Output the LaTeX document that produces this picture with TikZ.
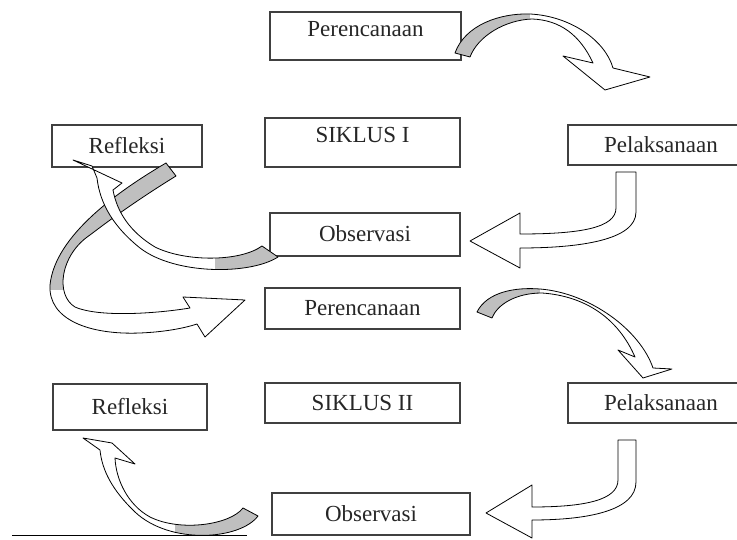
\documentclass[tikz,border=0pt]{standalone}
\usepackage{fontspec}
\setmainfont{Liberation Serif}
\usepackage{tikz}

\newcommand{\twistarrow}[2]{%
\fill[white] #1;
\begin{scope}
\clip #1;
\fill[gray!50] #2;
\end{scope}
\draw[ribbon] #1;}

\begin{document}
\begin{tikzpicture}[x = 1pt, y = -1pt,
box/.style = {draw = black!75, line width = 1.2pt, shape = rectangle, inner sep = 0pt, text height = 15pt, text depth = 0pt, font = \fontsize{23}{27}\selectfont, text = black!85},
ribbon/.style = {draw = black, line width = 0.8pt, line join = round}]
\useasboundingbox (0,0) rectangle (737,540);

% siklus I
\node[box, minimum width = 191pt, minimum height = 48pt, text depth = 13pt] (per1) at (365.5,36) {Perencanaan};
\node[box, minimum width = 195pt, minimum height = 49pt, text depth = 14pt] (sik1) at (362.5,142.5) {SIKLUS I};
\node[box, minimum width = 150pt, minimum height = 42pt] (ref1) at (127,146) {Refleksi};
\node[box, minimum width = 186pt, minimum height = 40pt] (pel1) at (661,145) {Pelaksanaan};
\node[box, minimum width = 190pt, minimum height = 43pt] (obs1) at (365,234.5) {Observasi};

% siklus II
\node[box, minimum width = 195pt, minimum height = 41pt] (per2) at (362.5,308.5) {Perencanaan};
\node[box, minimum width = 154pt, minimum height = 46pt] (ref2) at (130,407) {Refleksi};
\node[box, minimum width = 195pt, minimum height = 40pt] (sik2) at (362.5,403) {SIKLUS II};
\node[box, minimum width = 186pt, minimum height = 40pt] (pel2) at (661,403) {Pelaksanaan};
\node[box, minimum width = 198pt, minimum height = 42pt] (obs2) at (371,514) {Observasi};

% arrows
\twistarrow{(455,53) .. controls (465,25) and (500,13) .. (530,14) .. controls (570,16) and (605,40) .. (613,68) -- (650,77) -- (605,90) -- (563,56) -- (593,63) .. controls (580,35) and (560,20) .. (532,19) .. controls (505,20) and (478,36) .. (470,57) -- cycle}{(440,0) rectangle (530,70)}
\draw[ribbon, fill = white] (616,172) -- (636,172) -- (636,212) .. controls (636,240) and (580,248) .. (520,248) -- (520,268) -- (470,241) -- (520,213) -- (520,234) .. controls (580,234) and (616,228) .. (616,208) -- cycle;
\twistarrow{(166,163) .. controls (120,190) and (55,235) .. (50,285) .. controls (48,320) and (90,335) .. (140,333) .. controls (165,332) and (185,328) .. (197,324) -- (205,337) -- (245,300) -- (183,297) -- (190,308) .. controls (160,313) and (100,318) .. (75,307) .. controls (55,295) and (60,255) .. (90,235) .. controls (120,212) and (150,192) .. (176,176) -- cycle}{(30,150) rectangle (200,290)}
\twistarrow{(278,257) .. controls (250,275) and (175,275) .. (140,248) .. controls (115,228) and (100,205) .. (97,178) -- (92,166) -- (73,160) -- (122,183) -- (113,190) .. controls (117,212) and (130,232) .. (155,247) .. controls (185,262) and (240,262) .. (262,246) -- cycle}{(215,235) rectangle (290,280)}
\twistarrow{(477,312) .. controls (487,292) and (515,287) .. (540,289) .. controls (590,293) and (640,330) .. (653,368) -- (672,369) -- (643,378) -- (618,350) -- (635,357) .. controls (618,318) and (585,296) .. (542,293) .. controls (515,293) and (497,305) .. (492,318) -- cycle}{(460,270) rectangle (540,330)}
\draw[ribbon, fill = white] (618,440) -- (636,440) -- (636,482) .. controls (636,510) and (590,520) .. (532,520) -- (532,538) -- (486,513) -- (532,485) -- (532,507) .. controls (585,507) and (618,500) .. (618,480) -- cycle;
\twistarrow{(258,516) .. controls (240,540) and (170,545) .. (135,512) .. controls (112,490) and (102,470) .. (100,450) -- (83,438) -- (112,443) -- (135,464) -- (115,458) .. controls (116,480) and (128,505) .. (150,517) .. controls (180,532) and (230,525) .. (243,508) -- cycle}{(175,495) rectangle (270,545)}

\coordinate (lineL) at (12,535);
\coordinate (lineR) at (247,535);
\draw[line width = 1pt] (lineL) -- (lineR);
\end{tikzpicture}
\end{document}
